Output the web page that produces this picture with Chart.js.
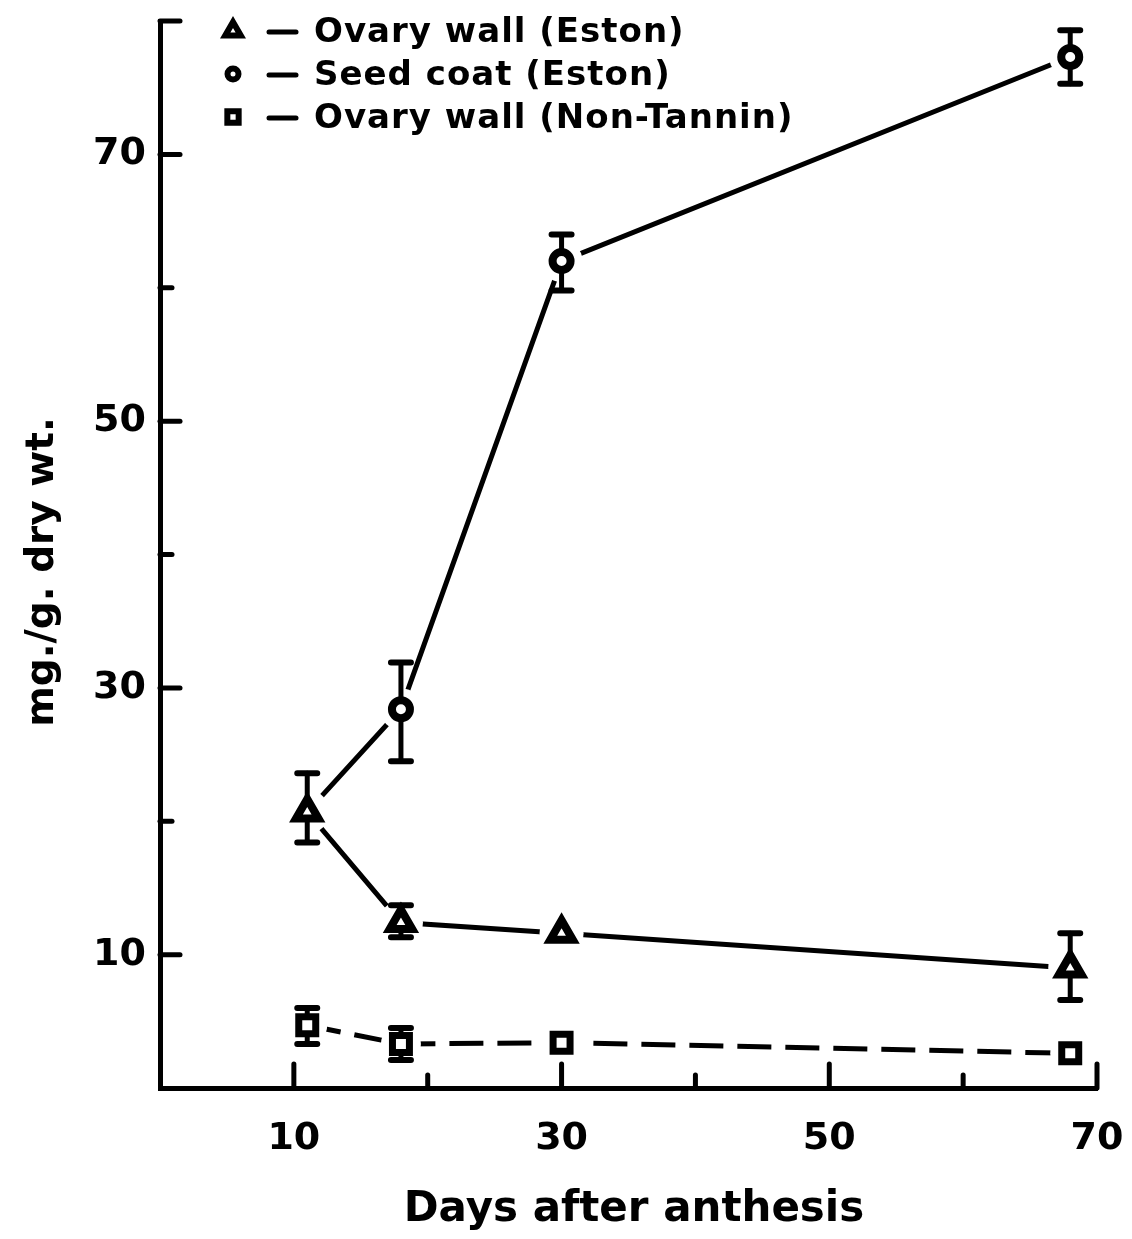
<!DOCTYPE html>
<html>
<head>
<meta charset="utf-8">
<script src="https://cdn.jsdelivr.net/npm/chart.js@4.4.1/dist/chart.umd.min.js"></script>
<style>
  html, body { margin: 0; padding: 0; background: #ffffff; }
  #wrap { width: 1132px; height: 1239px; }
</style>
</head>
<body>
<div id="wrap"><canvas id="chart" width="1132" height="1239"></canvas></div>
<script>
// Days after anthesis at which samples were taken
const days = [11, 18, 30, 68];

// Ovary wall (Eston), mg/g dry wt, with error limits
const ovaryWallEston     = [20.7, 12.4, 11.6, 9.0];
const ovaryWallEstonLow  = [18.4, 11.3, null, 6.6];
const ovaryWallEstonHigh = [23.6, 13.7, null, 11.6];

// Seed coat (Eston)
const seedCoatEston     = [20.7, 28.4, 62.0, 77.3];
const seedCoatEstonLow  = [null, 24.5, 59.8, 75.3];
const seedCoatEstonHigh = [null, 31.9, 64.0, 79.3];

// Ovary wall (Non-Tannin)
const ovaryWallNonTannin     = [4.7, 3.3, 3.4, 2.6];
const ovaryWallNonTanninLow  = [3.3, 2.1, null, null];
const ovaryWallNonTanninHigh = [6.0, 4.5, null, null];

// Axis ticks: every 10 units, only some are labelled
const xLabelledTicks = [10, 30, 50, 70];
const yLabelledTicks = [10, 30, 50, 70];

const seriesNames = ['Ovary wall (Eston)', 'Seed coat (Eston)', 'Ovary wall (Non-Tannin)'];

const INK = '#000000';
const FONT = '"DejaVu Sans", sans-serif';

function pts(values) {
  return days.map((d, i) => ({ x: d, y: values[i] }));
}

const errorLimits = [
  { low: ovaryWallEstonLow, high: ovaryWallEstonHigh },
  { low: seedCoatEstonLow, high: seedCoatEstonHigh },
  { low: ovaryWallNonTanninLow, high: ovaryWallNonTanninHigh }
];

function radiusAt(ds, i) {
  return Array.isArray(ds.pointRadius) ? ds.pointRadius[i] : ds.pointRadius;
}

// White halo behind each marker, error bars, then the markers on top
const markerPlugin = {
  id: 'markers',
  afterDatasetsDraw(chart) {
    const ctx = chart.ctx;
    const yScale = chart.scales.y;
    const metas = chart.data.datasets.map((_, i) => chart.getDatasetMeta(i));
    // halos
    ctx.save();
    ctx.fillStyle = '#ffffff';
    metas.forEach((meta, di) => {
      const ds = chart.data.datasets[di];
      meta.data.forEach((pt, i) => {
        if (!radiusAt(ds, i)) return;
        ctx.beginPath();
        ctx.arc(pt.x, pt.y, ds.haloRadius, 0, Math.PI * 2);
        ctx.fill();
      });
    });
    ctx.restore();
    // error bars
    ctx.save();
    ctx.strokeStyle = INK;
    ctx.lineCap = 'round';
    metas.forEach((meta, di) => {
      const lim = errorLimits[di];
      meta.data.forEach((pt, i) => {
        const lo = lim.low[i], hi = lim.high[i];
        if (lo == null || hi == null) return;
        const yLo = yScale.getPixelForValue(lo);
        const yHi = yScale.getPixelForValue(hi);
        ctx.lineWidth = 5;
        ctx.beginPath();
        ctx.moveTo(pt.x, yHi);
        ctx.lineTo(pt.x, yLo);
        ctx.stroke();
        ctx.lineWidth = 6;
        ctx.beginPath();
        ctx.moveTo(pt.x - 10, yHi); ctx.lineTo(pt.x + 10, yHi);
        ctx.moveTo(pt.x - 10, yLo); ctx.lineTo(pt.x + 10, yLo);
        ctx.stroke();
      });
    });
    ctx.restore();
    // markers again, above halos and bars
    metas.forEach(meta => {
      meta.data.forEach(pt => pt.draw(ctx, chart.chartArea));
    });
  }
};

// Inward tick marks, axis titles and the key
const framePlugin = {
  id: 'frame',
  afterDraw(chart) {
    const ctx = chart.ctx;
    const xs = chart.scales.x, ys = chart.scales.y;
    const area = chart.chartArea;
    ctx.save();
    ctx.strokeStyle = INK;
    ctx.lineWidth = 5;
    ctx.lineCap = 'round';
    xs.ticks.forEach(t => {
      if (t.value === 0) return;
      const len = xLabelledTicks.includes(t.value) ? 24 : 13;
      const px = xs.getPixelForValue(t.value);
      ctx.beginPath();
      ctx.moveTo(px, area.bottom);
      ctx.lineTo(px, area.bottom - len);
      ctx.stroke();
    });
    ys.ticks.forEach(t => {
      if (t.value === 0) return;
      const len = (yLabelledTicks.includes(t.value) || t.value === ys.max) ? 20 : 12;
      const py = ys.getPixelForValue(t.value);
      ctx.beginPath();
      ctx.moveTo(area.left, py);
      ctx.lineTo(area.left + len, py);
      ctx.stroke();
    });
    ctx.restore();

    // axis titles
    ctx.save();
    ctx.fillStyle = INK;
    ctx.font = 'bold 42px ' + FONT;
    ctx.textAlign = 'center';
    ctx.textBaseline = 'alphabetic';
    ctx.fillText('Days after anthesis', 634, 1221);
    ctx.translate(53, 572);
    ctx.rotate(-Math.PI / 2);
    ctx.font = 'bold 39px ' + FONT;
    ctx.fillText('mg./g. dry wt.', 0, 0);
    ctx.restore();

    // key
    const rows = [31, 74, 117];
    const styles = ['triangle', 'circle', 'rect'];
    const radii = [9, 5.5, 8];
    ctx.save();
    ctx.fillStyle = INK;
    ctx.strokeStyle = INK;
    ctx.font = 'bold 34px ' + FONT;
    ctx.letterSpacing = '1px';
    ctx.textBaseline = 'middle';
    ctx.textAlign = 'left';
    rows.forEach((ry, i) => {
      ctx.save();
      ctx.fillStyle = '#ffffff';
      ctx.lineWidth = 6;
      Chart.helpers.drawPoint(ctx, { pointStyle: styles[i], radius: radii[i], borderWidth: 6, rotation: 0 }, 233, ry);
      ctx.restore();
      ctx.lineWidth = 5;
      ctx.lineCap = 'round';
      ctx.beginPath();
      ctx.moveTo(269, ry + 1);
      ctx.lineTo(296, ry + 1);
      ctx.stroke();
      ctx.fillText(seriesNames[i], 314, ry + 2);
    });
    ctx.restore();
  }
};

new Chart(document.getElementById('chart'), {
  type: 'scatter',
  data: {
    datasets: [
      {
        label: seriesNames[0],
        data: pts(ovaryWallEston),
        showLine: true,
        borderColor: INK,
        borderWidth: 5,
        pointStyle: 'triangle',
        pointRadius: 13,
        pointBorderWidth: 8,
        pointBorderColor: INK,
        pointBackgroundColor: '#ffffff',
        haloRadius: 22
      },
      {
        label: seriesNames[1],
        data: pts(seedCoatEston),
        showLine: true,
        borderColor: INK,
        borderWidth: 5,
        pointStyle: 'circle',
        pointRadius: [0, 9, 9, 9],
        pointBorderWidth: 8,
        pointBorderColor: INK,
        pointBackgroundColor: '#ffffff',
        haloRadius: 21
      },
      {
        label: seriesNames[2],
        data: pts(ovaryWallNonTannin),
        showLine: true,
        borderColor: INK,
        borderWidth: 5,
        borderDash: [34, 14],
        pointStyle: 'rect',
        pointRadius: 12,
        pointBorderWidth: 7,
        pointBorderColor: INK,
        pointBackgroundColor: '#ffffff',
        haloRadius: 20
      }
    ]
  },
  options: {
    responsive: false,
    animation: false,
    devicePixelRatio: 1,
    layout: { padding: { left: 0, right: 35, top: 19, bottom: 0 } },
    plugins: { legend: { display: false }, tooltip: { enabled: false } },
    elements: { line: { tension: 0 } },
    scales: {
      x: {
        type: 'linear',
        min: 0,
        max: 70,
        afterFit(scale) { scale.height = 151; scale.paddingLeft = 0; scale.paddingRight = 0; },
        grid: { display: false, drawTicks: false, tickLength: 0 },
        border: { display: true, color: INK, width: 5 },
        ticks: {
          stepSize: 10,
          padding: 28,
          color: INK,
          font: { family: FONT, size: 38, weight: 'bold' },
          maxRotation: 0,
          autoSkip: false,
          callback: v => (xLabelledTicks.includes(v) ? String(v) : '')
        }
      },
      y: {
        type: 'linear',
        min: 0,
        max: 80,
        afterFit(scale) { scale.width = 160; scale.paddingTop = 0; scale.paddingBottom = 0; },
        grid: { display: false, drawTicks: false, tickLength: 0 },
        border: { display: true, color: INK, width: 5 },
        ticks: {
          stepSize: 10,
          padding: 14,
          color: INK,
          font: { family: FONT, size: 38, weight: 'bold' },
          autoSkip: false,
          callback: v => (yLabelledTicks.includes(v) ? String(v) : '')
        }
      }
    }
  },
  plugins: [markerPlugin, framePlugin]
});
</script>
</body>
</html>
